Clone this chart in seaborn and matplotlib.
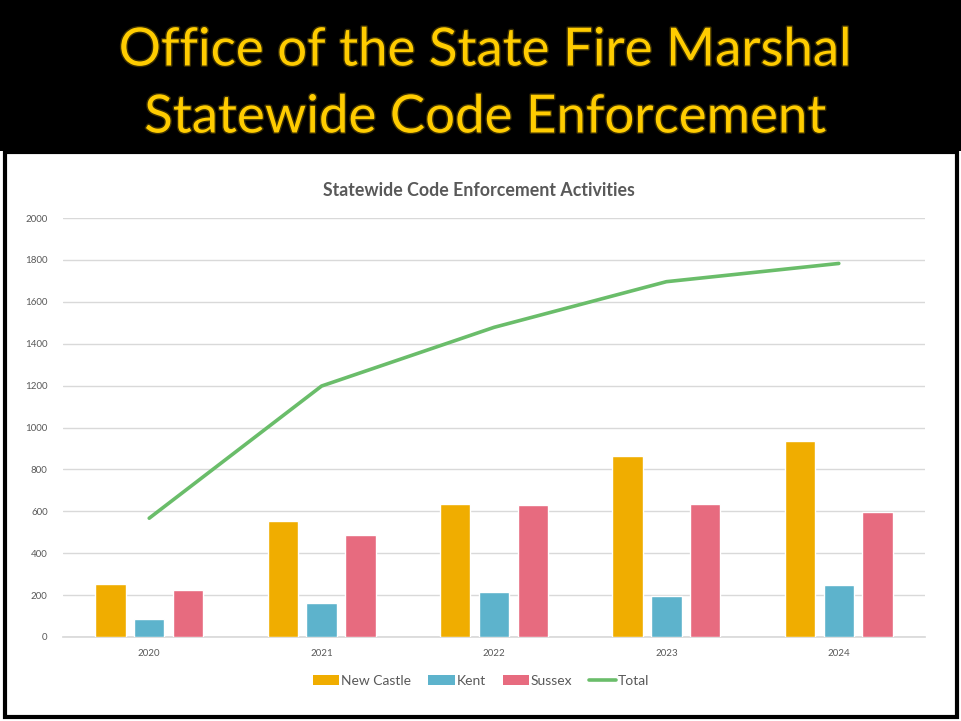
import numpy as np
import pandas as pd
import matplotlib
matplotlib.use("Agg")
import matplotlib.pyplot as plt
import matplotlib.patheffects as pe
from matplotlib.patches import Rectangle, Patch
from matplotlib.lines import Line2D
import seaborn as sns

years = ["2020", "2021", "2022", "2023", "2024"]
new_castle = [255, 553, 633, 863, 937]
kent = [88, 160, 214, 197, 248]
sussex = [224, 485, 631, 636, 598]
total = [567, 1198, 1478, 1696, 1783]

counties = ["New Castle", "Kent", "Sussex"]
colors = {"New Castle": "#F0AD00", "Kent": "#5DB3CC", "Sussex": "#E76B7F"}
line_color = "#6ABD6A"
text_grey = "#595959"

sns.set_theme(style="white")
plt.rcParams["font.family"] = ["Lato", "DejaVu Sans"]

df = pd.DataFrame({
    "year": years * 3,
    "county": [c for c in counties for _ in years],
    "value": new_castle + kent + sussex,
})

fig = plt.figure(figsize=(9.61, 7.21), dpi=100)
fig.patch.set_facecolor("white")

# black banner with the slide title
fig.add_artist(Rectangle((0, 1 - 151 / 721), 1, 151 / 721, transform=fig.transFigure,
                         facecolor="black", edgecolor="none", zorder=0))
outline = [pe.withStroke(linewidth=2, foreground="#3a2e00")]
fig.text(0.505, 1 - 51 / 721, "Office of the State Fire Marshal", ha="center", va="center",
         fontsize=38, color="#FFCC00", path_effects=outline)
fig.text(0.505, 1 - 118 / 721, "Statewide Code Enforcement", ha="center", va="center",
         fontsize=38, color="#FFCC00", path_effects=outline)

# white panel border
fig.add_artist(Rectangle((4.5 / 961, 4.5 / 721), 952 / 961, (716 - 151) / 721,
                         transform=fig.transFigure, facecolor="none",
                         edgecolor="black", linewidth=3, zorder=5))

ax = fig.add_axes([63 / 961, 1 - 637 / 721, 862 / 961, 419 / 721])
sns.barplot(data=df, x="year", y="value", hue="county", palette=colors, saturation=1,
            width=0.675, gap=0.22, ax=ax, legend=False, zorder=3)
sns.lineplot(x=np.arange(len(years)), y=total, color=line_color, linewidth=2.6,
             ax=ax, zorder=4)

ax.set_xlim(-0.5, len(years) - 0.5)
ax.set_ylim(0, 2000)
ax.set_yticks(range(0, 2001, 200))
ax.set_xticks(range(len(years)))
ax.set_xticklabels(years)
ax.grid(axis="y", color="#D9D9D9", linewidth=1, zorder=0)
ax.set_axisbelow(True)
for s in ["top", "right", "left"]:
    ax.spines[s].set_visible(False)
ax.spines["bottom"].set_color("#D9D9D9")
ax.tick_params(axis="both", length=0, labelsize=7, labelcolor=text_grey)
ax.tick_params(axis="y", pad=11)
ax.tick_params(axis="x", pad=9)
ax.set_xlabel("")
ax.set_ylabel("")

fig.text(479 / 961, 1 - 190 / 721, "Statewide Code Enforcement Activities", ha="center",
         va="center", fontsize=12.8, fontweight="bold", color=text_grey)

handles = [Patch(facecolor=colors[c], edgecolor="none") for c in counties]
handles.append(Line2D([0], [0], color=line_color, linewidth=2.6))
fig.legend(handles, counties + ["Total"], loc="center", bbox_to_anchor=(481 / 961, 1 - 681 / 721),
           ncol=4, frameon=False, fontsize=10, labelcolor=text_grey,
           handlelength=1.9, handleheight=0.7, handletextpad=0.15, columnspacing=1.2)

fig.savefig("out.png", dpi=100)
